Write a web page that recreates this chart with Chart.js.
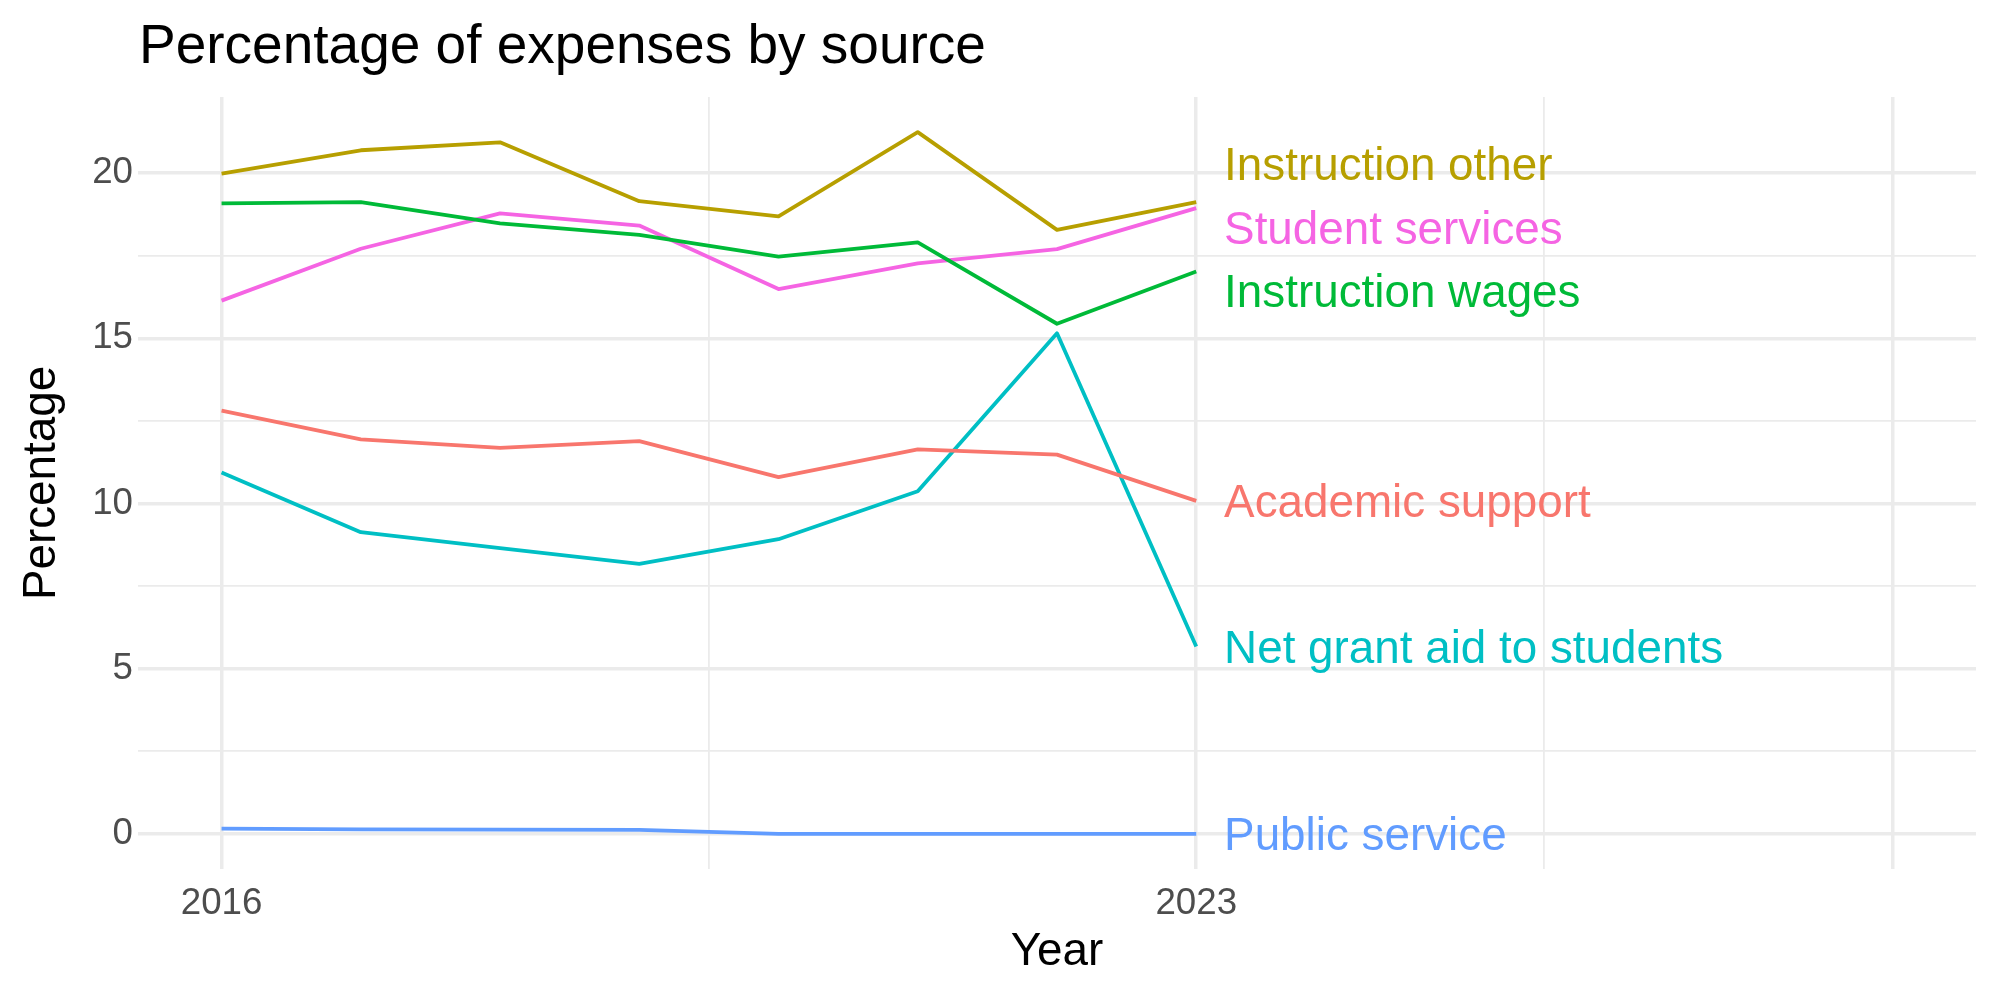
<!DOCTYPE html>
<html>
<head>
<meta charset="utf-8">
<script src="https://cdn.jsdelivr.net/npm/chart.js@4/dist/chart.umd.min.js"></script>
<style>
  html, body { margin: 0; padding: 0; background: #ffffff; }
  #wrap { width: 2000px; height: 1000px; position: relative; }
</style>
</head>
<body>
<div id="wrap"><canvas id="c" width="2000" height="1000"></canvas></div>
<script>
// ---------- data ----------
const years = [2016, 2017, 2018, 2019, 2020, 2021, 2022, 2023];
const seriesNames = ["Academic support", "Instruction other", "Instruction wages",
                     "Net grant aid to students", "Public service", "Student services"];
const academicSupport  = [12.81, 11.94, 11.68, 11.89, 10.80, 11.64, 11.48, 10.08];
const instructionOther = [19.98, 20.69, 20.93, 19.15, 18.69, 21.24, 18.28, 19.12];
const instructionWages = [19.08, 19.12, 18.48, 18.13, 17.47, 17.90, 15.44, 17.02];
const netGrantAid      = [10.94,  9.13,  8.65,  8.17,  8.92, 10.37, 15.15,  5.67];
const publicService    = [ 0.16,  0.14,  0.13,  0.12,  0.00,  0.00,  0.00,  0.00];
const studentServices  = [16.14, 17.71, 18.78, 18.41, 16.49, 17.27, 17.70, 18.94];
const seriesValues = [academicSupport, instructionOther, instructionWages,
                      netGrantAid, publicService, studentServices];
const seriesColors = ["#F8766D", "#B79F00", "#00BA38", "#00BFC4", "#619CFF", "#F564E3"];

const xMajorTicks = [2016, 2023, 2028];
const xMinorTicks = [2019.5, 2025.5];
const xTickLabels = {2016: "2016", 2023: "2023"};
const xLimits = [2016, 2028];
const yMajorTicks = [0, 5, 10, 15, 20];
const yMinorTicks = [2.5, 7.5, 12.5, 17.5];

const titleText = "Percentage of expenses by source";
const xTitle = "Year";
const yTitle = "Percentage";

// ---------- derived ----------
const allVals = seriesValues.flat();
const yLo = Math.min(...allVals), yHi = Math.max(...allVals);
const yPad = 0.05 * (yHi - yLo);
const xPad = 0.05 * (xLimits[1] - xLimits[0]);
const FONT = '"Liberation Sans", Arial, Helvetica, sans-serif';
const GRID = "#EBEBEB";

const datasets = seriesNames.map((name, i) => ({
  label: name,
  data: years.map((y, k) => ({x: y, y: seriesValues[i][k]})),
  borderColor: seriesColors[i],
  backgroundColor: seriesColors[i],
  borderWidth: 3.8,
  pointRadius: 0,
  pointHoverRadius: 0,
  tension: 0,
  fill: false,
  borderJoinStyle: "round",
  borderCapStyle: "butt"
}));

function repel(vals, gap) {
  const idx = vals.map((v, i) => i).sort((a, b) => vals[a] - vals[b]);
  let clusters = idx.map(i => ({ids: [i], center: vals[i]}));
  let changed = true;
  while (changed) {
    changed = false;
    for (let k = 0; k < clusters.length - 1; k++) {
      const a = clusters[k], b = clusters[k + 1];
      const aTop = a.center + (a.ids.length - 1) * gap / 2;
      const bBot = b.center - (b.ids.length - 1) * gap / 2;
      if (bBot - aTop < gap - 1e-9) {
        const ids = a.ids.concat(b.ids);
        const center = ids.reduce((s, id) => s + vals[id], 0) / ids.length;
        clusters.splice(k, 2, {ids, center});
        changed = true;
        break;
      }
    }
  }
  const out = [];
  clusters.forEach(c => c.ids.forEach((id, j) => {
    out[id] = c.center + (j - (c.ids.length - 1) / 2) * gap;
  }));
  return out;
}

const titlePlugin = {
  id: "ggTitle",
  afterDraw(chart) {
    const ctx = chart.ctx;
    ctx.save();
    ctx.font = "55px " + FONT;
    ctx.fillStyle = "#000000";
    ctx.textAlign = "left";
    ctx.textBaseline = "alphabetic";
    ctx.fillText(titleText, 139, 62.5);
    ctx.restore();
  }
};

const endLabelPlugin = {
  id: "endLabels",
  afterDatasetsDraw(chart) {
    const xs = chart.scales.x, ys = chart.scales.y;
    const lastVals = seriesValues.map(v => v[v.length - 1]);
    const pxPerUnit = Math.abs(ys.getPixelForValue(0) - ys.getPixelForValue(1));
    const pos = repel(lastVals, 63.5 / pxPerUnit);
    const ctx = chart.ctx;
    const fs = 45.8;
    ctx.save();
    ctx.font = fs + "px " + FONT;
    ctx.textAlign = "left";
    ctx.textBaseline = "alphabetic";
    const x = xs.getPixelForValue(years[years.length - 1] + 0.2);
    seriesNames.forEach((name, i) => {
      const y = ys.getPixelForValue(pos[i]);
      ctx.fillStyle = seriesColors[i];
      ctx.fillText(name, x, y + 0.358 * fs);
    });
    ctx.restore();
  }
};

const isIn = (arr, v) => arr.some(a => Math.abs(a - v) < 1e-6);

new Chart(document.getElementById("c"), {
  type: "line",
  data: { datasets },
  plugins: [titlePlugin, endLabelPlugin],
  options: {
    responsive: false,
    animation: false,
    devicePixelRatio: 1,
    layout: { padding: { top: 97, right: 24, bottom: 0, left: 0 } },
    plugins: { legend: { display: false }, tooltip: { enabled: false }, title: { display: false } },
    scales: {
      x: {
        type: "linear",
        min: xLimits[0] - xPad,
        max: xLimits[1] + xPad,
        afterBuildTicks(scale) {
          scale.ticks = xMajorTicks.concat(xMinorTicks).sort((a, b) => a - b).map(v => ({value: v}));
        },
        afterFit(scale) { scale.height = 131; },
        border: { display: false },
        grid: {
          color: GRID,
          drawTicks: false,
          lineWidth: c => (c.tick && isIn(xMajorTicks, c.tick.value)) ? 3.5 : 1.8
        },
        ticks: {
          autoSkip: false,
          maxRotation: 0,
          padding: 13,
          color: "#4D4D4D",
          font: { family: FONT, size: 36.7 },
          callback: v => xTickLabels[v] || ""
        },
        title: {
          display: true,
          text: xTitle,
          color: "#000000",
          font: { family: FONT, size: 45.8, lineHeight: 1 },
          padding: { top: 0, bottom: 25 }
        }
      },
      y: {
        type: "linear",
        min: yLo - yPad,
        max: yHi + yPad,
        afterBuildTicks(scale) {
          scale.ticks = yMajorTicks.concat(yMinorTicks).sort((a, b) => a - b).map(v => ({value: v}));
        },
        afterFit(scale) { scale.width = 138; },
        border: { display: false },
        grid: {
          color: GRID,
          drawTicks: false,
          lineWidth: c => (c.tick && isIn(yMajorTicks, c.tick.value)) ? 3.5 : 1.8
        },
        ticks: {
          autoSkip: false,
          padding: 5,
          color: "#4D4D4D",
          font: { family: FONT, size: 36.7 },
          callback: v => isIn(yMajorTicks, v) ? String(v) : ""
        },
        title: {
          display: true,
          text: yTitle,
          color: "#000000",
          font: { family: FONT, size: 45.8, lineHeight: 1 },
          padding: { top: 19, bottom: 0 }
        }
      }
    }
  }
});
</script>
</body>
</html>
